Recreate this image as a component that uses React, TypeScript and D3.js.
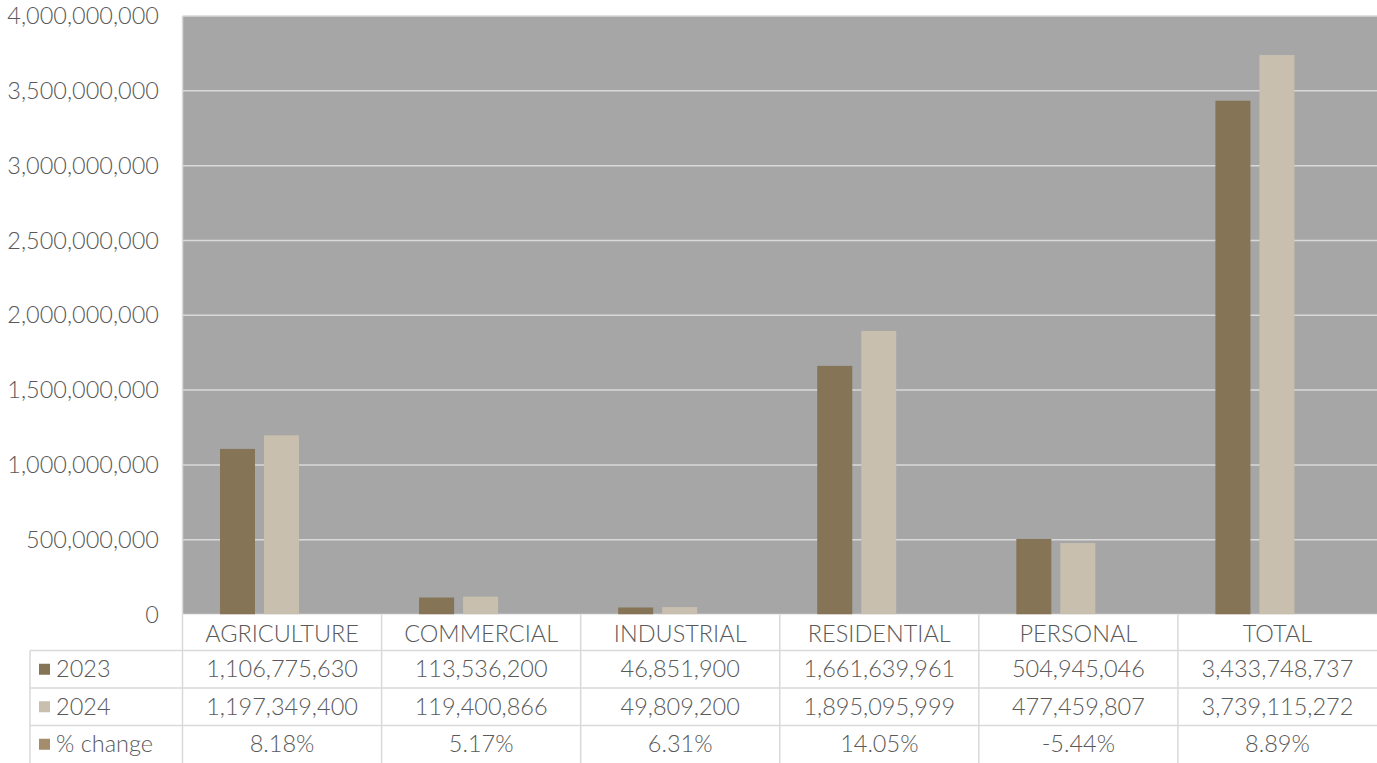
import React from "react";
import * as d3 from "d3";

const categories = ["AGRICULTURE", "COMMERCIAL", "INDUSTRIAL", "RESIDENTIAL", "PERSONAL", "TOTAL"];
const values2023 = [1106775630, 113536200, 46851900, 1661639961, 504945046, 3433748737];
const values2024 = [1197349400, 119400866, 49809200, 1895095999, 477459807, 3739115272];
const pctChange = ["8.18%", "5.17%", "6.31%", "14.05%", "-5.44%", "8.89%"];
const pctValues = [0.0818, 0.0517, 0.0631, 0.1405, -0.0544, 0.0889];
const seriesNames = ["2023", "2024", "% change"];
const seriesColors = ["#857455", "#c8bfaf", "#a38d6c"];
const yTicks = [0, 500000000, 1000000000, 1500000000, 2000000000, 2500000000, 3000000000, 3500000000, 4000000000];

const W = 1377, H = 763;
const plotL = 182.5, plotR = 1377, plotT = 16, plotB = 614.5;
const tableL = 30;
const rowLines = [614.5, 650.5, 688, 725.5, 763];
const font = "Lato, 'Open Sans', sans-serif";
const textColor = "#595959";
const gridColor = "#d9d9d9";
const fs = 23.5;
const fw = 300;

export default function App() {
  const x = d3.scaleBand<string>().domain(categories).range([plotL, plotR]).paddingInner(0).paddingOuter(0);
  const inner = d3.scaleBand<string>().domain(seriesNames).range([37.5, 160.5]).paddingInner(9 / 44).paddingOuter(0);
  const y = d3.scaleLinear().domain([0, 4000000000]).range([plotB, plotT]);
  const fmt = d3.format(",");
  const series = [values2023, values2024, pctValues];
  const rows = [values2023.map(fmt), values2024.map(fmt), pctChange];

  return (
    <svg width={W} height={H} style={{ position: "absolute", left: 0, top: 0, display: "block" }} fontFamily={font}>
      <rect x={plotL} y={plotT} width={plotR - plotL} height={plotB - plotT} fill="#a6a6a6" />
      {yTicks.map((t) => (
        <line key={"g" + t} x1={plotL} x2={plotR} y1={y(t)} y2={y(t)} stroke={gridColor} strokeWidth={1.5} />
      ))}
      <line x1={plotL} x2={plotL} y1={plotT} y2={plotB} stroke={gridColor} strokeWidth={1.5} />
      {yTicks.map((t) => (
        <text key={"t" + t} x={159} y={y(t)} dy="0.35em" textAnchor="end" fontSize={fs} fill={textColor} fontWeight={fw}>
          {fmt(t)}
        </text>
      ))}
      {categories.map((c, i) =>
        series.map((s, k) => {
          const v = s[i];
          if (k === 2) return null;
          return (
            <rect
              key={c + k}
              x={(x(c) as number) + (inner(seriesNames[k]) as number)}
              y={y(v)}
              width={inner.bandwidth()}
              height={plotB - y(v)}
              fill={seriesColors[k]}
            />
          );
        })
      )}
      {/* table */}
      <rect x={plotL} y={rowLines[0]} width={plotR - plotL} height={H - rowLines[0]} fill="#fff" />
      {rowLines.slice(1, 4).map((ly) => (
        <line key={"r" + ly} x1={tableL} x2={plotR} y1={ly} y2={ly} stroke={gridColor} strokeWidth={1.5} />
      ))}
      <line x1={tableL} x2={tableL} y1={rowLines[1]} y2={H} stroke={gridColor} strokeWidth={1.5} />
      {categories.map((c) => (
        <line key={"v" + c} x1={x(c) as number} x2={x(c) as number} y1={rowLines[0]} y2={H} stroke={gridColor} strokeWidth={1.5} />
      ))}
      {categories.map((c) => (
        <text key={"h" + c} x={(x(c) as number) + x.bandwidth() / 2} y={(rowLines[0] + rowLines[1]) / 2 + 1.5} dy="0.35em" textAnchor="middle" fontSize={fs} fill={textColor} fontWeight={fw}>
          {c}
        </text>
      ))}
      {rows.map((r, ri) => (
        <g key={"row" + ri}>
          <rect x={39} y={(rowLines[ri + 1] + rowLines[ri + 2]) / 2 - 5.5} width={11} height={11} fill={seriesColors[ri]} />
          <text x={56} y={(rowLines[ri + 1] + rowLines[ri + 2]) / 2} dy="0.35em" fontSize={fs} fill={textColor} fontWeight={fw}>
            {seriesNames[ri]}
          </text>
          {r.map((v, ci) => (
            <text key={ci} x={(x(categories[ci]) as number) + x.bandwidth() / 2} y={(rowLines[ri + 1] + rowLines[ri + 2]) / 2} dy="0.35em" textAnchor="middle" fontSize={fs} fill={textColor} fontWeight={fw}>
              {v}
            </text>
          ))}
        </g>
      ))}
    </svg>
  );
}
